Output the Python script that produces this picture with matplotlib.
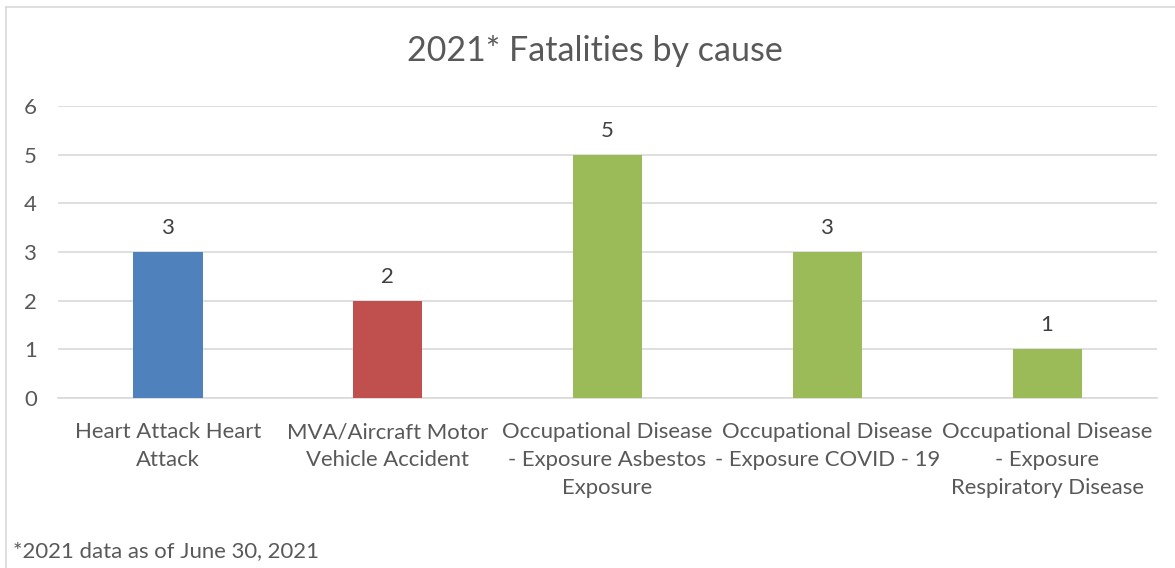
import matplotlib

matplotlib.use("Agg")
import matplotlib.pyplot as plt
from matplotlib.lines import Line2D
import numpy as np

causes = [
    "Heart Attack Heart\nAttack",
    "MVA/Aircraft Motor\nVehicle Accident",
    "Occupational Disease\n- Exposure Asbestos\nExposure",
    "Occupational Disease\n- Exposure COVID - 19",
    "Occupational Disease\n- Exposure\nRespiratory Disease",
]
fatalities = [3, 2, 5, 3, 1]
bar_colors = ["#4F81BD", "#C0504D", "#9BBB59", "#9BBB59", "#9BBB59"]
y_ticks = [0, 1, 2, 3, 4, 5, 6]

plt.rcParams["font.family"] = ["Lato", "DejaVu Sans"]
TEXT = "#595959"
FS = 15.9

fig = plt.figure(figsize=(11.75, 5.68), dpi=100)
ax = fig.add_axes([0.0494, 0.2993, 0.9353, 0.5141])

x = np.arange(len(causes))
bars = ax.bar(x, fatalities, width=0.315, color=bar_colors, zorder=3)
for bar, value in zip(bars, fatalities):
    ax.annotate(str(value), (bar.get_x() + bar.get_width() / 2, value),
                xytext=(0, 10), textcoords="offset points",
                ha="center", va="bottom", fontsize=FS, color="#404040")

ax.set_xlim(-0.5, len(causes) - 0.5)
ax.set_ylim(0, 6)
ax.set_yticks(y_ticks)
ax.set_yticklabels([str(t) for t in y_ticks], fontsize=FS, color=TEXT)
ax.set_xticks(x)
ax.set_xticklabels(causes, fontsize=FS, color=TEXT, linespacing=1.5)
ax.tick_params(axis="both", length=0)
ax.tick_params(axis="x", pad=17.5)
ax.tick_params(axis="y", pad=20)
for label in ax.get_yticklabels():
    label.set_horizontalalignment("center")
ax.grid(axis="y", color="#D9D9D9", linewidth=1.2, zorder=0)
for side in ["top", "right", "left"]:
    ax.spines[side].set_visible(False)
ax.spines["bottom"].set_color("#D9D9D9")
ax.spines["bottom"].set_linewidth(1.2)

fig.text(0.5065, 0.91, "2021* Fatalities by cause", ha="center", va="center",
         fontsize=24.5, color=TEXT)
fig.text(0.011, 0.03, "*2021 data as of June 30, 2021", ha="left", va="center",
         fontsize=FS, color=TEXT)

# chart border (only left and top edges visible in the crop)
fig.add_artist(Line2D([6 / 1175, 6 / 1175], [0, 1 - 7 / 568], color="#D9D9D9", linewidth=1.2))
fig.add_artist(Line2D([6 / 1175, 1], [1 - 7 / 568, 1 - 7 / 568], color="#D9D9D9", linewidth=1.2))

fig.savefig("out.png", dpi=100)
